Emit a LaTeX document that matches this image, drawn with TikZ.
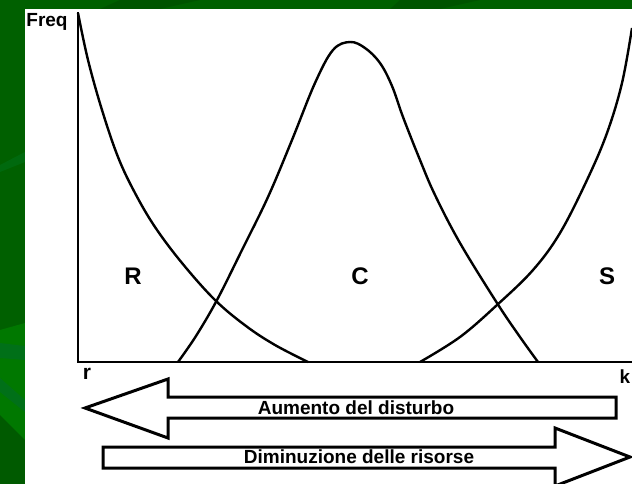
\documentclass[tikz,border=0pt]{standalone}
\usepackage{fontspec}
\setmainfont{Liberation Sans}
\begin{document}
\begin{tikzpicture}[x=1pt,y=-1pt,
  curve/.style={line width=2.4pt,line join=round,smooth,tension=0.6},
  axisline/.style={line width=2.4pt},
  bigarrow/.style={draw=black,fill=white,line width=3pt,line join=miter},
  lbl/.style={font=\fontsize{24}{24}\selectfont\bfseries,inner sep=0pt},
  axlbl/.style={font=\fontsize{19}{19}\selectfont\bfseries,inner sep=0pt},
  arrtext/.style={font=\fontsize{19}{19}\selectfont\bfseries,inner sep=0pt}]
\useasboundingbox (0,0) rectangle (632,484);
\clip (0,0) rectangle (632,484);
% background
\fill[color={rgb,255:red,0;green,96;blue,0}] (0,0) rectangle (632,484);
\fill[color={rgb,255:red,0;green,110;blue,20},opacity=0.7] (0,165) -- (25,152) -- (25,162) -- (0,172) -- cycle;
\fill[color={rgb,255:red,0;green,120;blue,0}] (0,330) -- (25,323) -- (25,484) -- (0,484) -- cycle;
\fill[color={rgb,255:red,0;green,110;blue,30},opacity=0.8] (0,343) -- (25,346) -- (25,360) -- (0,358) -- cycle;
\fill[color={rgb,255:red,0;green,110;blue,30},opacity=0.8] (0,378) -- (25,400) -- (25,412) -- (0,392) -- cycle;
\fill[color={rgb,255:red,0;green,90;blue,0}] (0,415) -- (25,440) -- (25,484) -- (0,484) -- cycle;
\fill[color={rgb,255:red,0;green,84;blue,0}] (120,0) -- (200,0) -- (160,9) -- (100,9) -- cycle;
\fill[color={rgb,255:red,0;green,84;blue,0}] (400,0) -- (480,0) -- (440,9) -- (390,9) -- cycle;
\fill[white] (25,9) rectangle (632,484);
% axes
\coordinate (origin) at (78,362);
\coordinate (ytop) at (78,12);
\coordinate (xend) at (634,362);
\draw[axisline] (ytop) -- (origin) -- (xend);
\node[axlbl] (freq) at (47,22) {Freq};
\node[axlbl,font=\fontsize{21}{21}\selectfont\bfseries] (rlab) at (87,374) {r};
\node[axlbl] (klab) at (625,377) {k};
% curves
\draw[curve] plot coordinates {(78,13) (88,60) (102,110) (118,157) (135,193) (155,227) (182,263) (215,300) (246,326) (275,345) (308,362)};
\draw[curve] plot coordinates {(178,362) (196,336) (217,300) (242,250) (268,197) (292,140) (315,83) (333,50) (350,42) (365,48) (380,63) (392,86) (403,117) (420,160) (435,195) (460,243) (497,303) (520,337) (538,362)};
\draw[curve] plot coordinates {(420,362) (460,337) (497,305) (533,270) (560,233) (587,180) (607,133) (622,83) (632,28)};
% labels
\node[lbl] (R) at (133,276) {R};
\node[lbl] (C) at (360,276) {C};
\node[lbl] (S) at (607,276) {S};
% arrows
\draw[bigarrow] (85,408) -- (168,379) -- (168,397) -- (616,397) -- (616,418) -- (168,418) -- (168,438) -- cycle;
\node[arrtext] (dist) at (356,408) {Aumento del disturbo};
\draw[bigarrow] (103,447) -- (555,447) -- (555,428) -- (630,457) -- (555,486) -- (555,468) -- (103,468) -- cycle;
\node[arrtext] (ris) at (359,457) {Diminuzione delle risorse};
\end{tikzpicture}
\end{document}
